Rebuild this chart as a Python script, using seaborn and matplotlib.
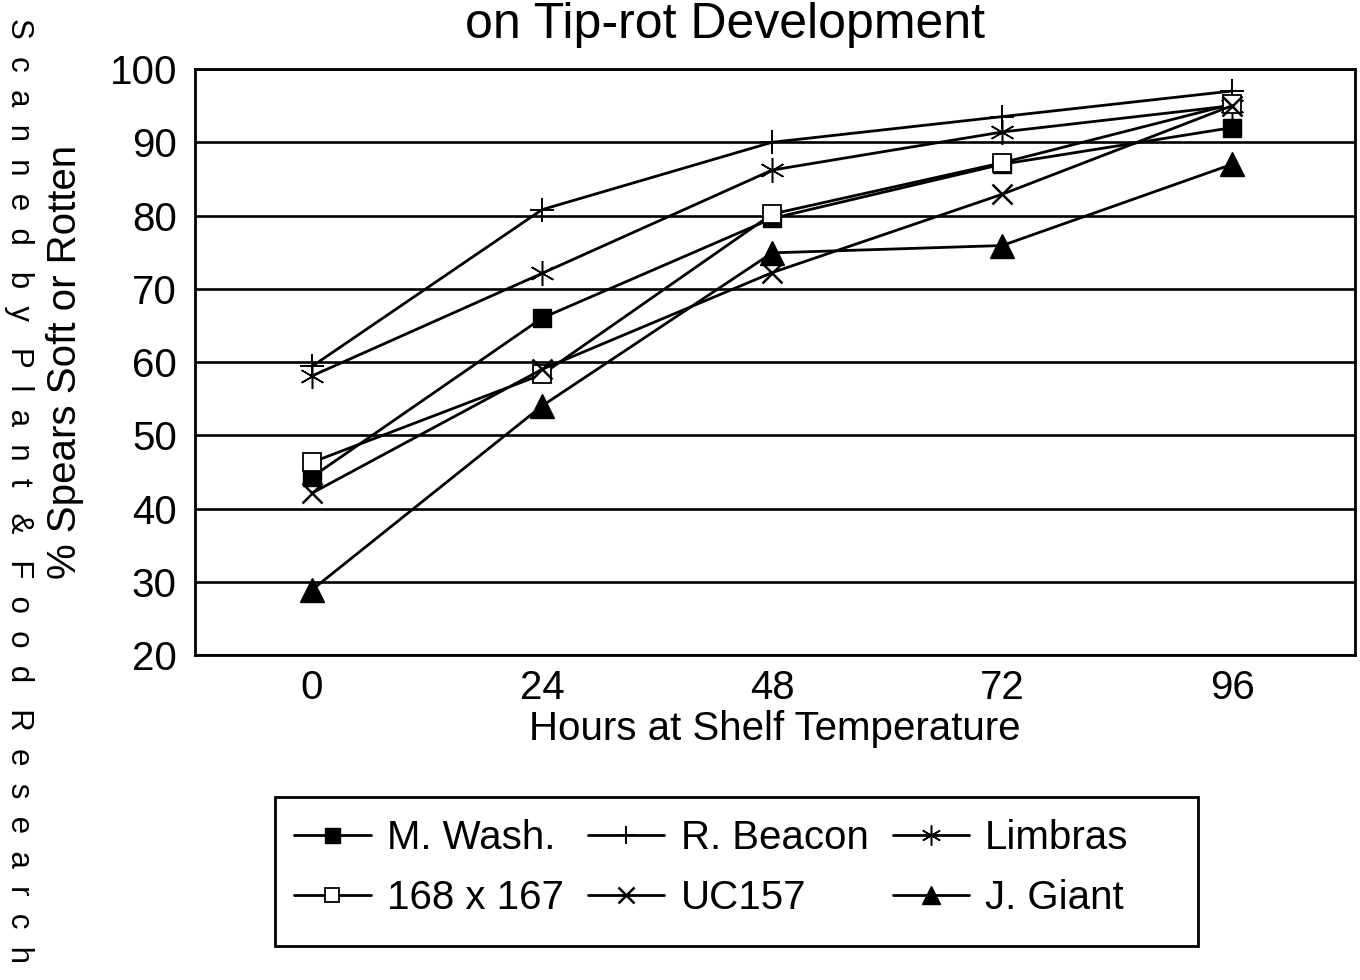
import matplotlib
matplotlib.use("Agg")
import matplotlib.pyplot as plt
from matplotlib.patches import Rectangle
import seaborn as sns
import pandas as pd

# ---- data ----
hours = [0, 24, 48, 72, 96]
m_wash = [44.3, 66.0, 79.6, 87.0, 92.0]
r_beacon = [59.4, 80.8, 90.0, 93.5, 97.0]
limbras = [58.1, 72.1, 86.2, 91.4, 95.0]
cross_168_167 = [46.3, 58.3, 80.2, 87.2, 95.2]
uc157 = [42.1, 59.0, 72.2, 82.9, 95.0]
j_giant = [28.9, 54.0, 74.9, 75.9, 87.0]

series_names = ["M. Wash.", "R. Beacon", "Limbras", "168 x 167", "UC157", "J. Giant"]
series_values = [m_wash, r_beacon, limbras, cross_168_167, uc157, j_giant]
y_ticks = [20, 30, 40, 50, 60, 70, 80, 90, 100]
x_ticks = [0, 24, 48, 72, 96]

title_text = "on Tip-rot Development"
x_label = "Hours at Shelf Temperature"
y_label = "% Spears Soft or Rotten"
side_text = "Scanned by Plant & Food Research"

# ---- styling ----
sns.set_theme(style="white")
plt.rcParams["font.family"] = ["Liberation Sans", "DejaVu Sans"]
plt.rcParams["text.color"] = "black"
plt.rcParams["axes.labelcolor"] = "black"

marker_styles = {
    "M. Wash.": dict(marker="s", ms=13.5, mfc="black", mec="black", mew=1.0),
    "R. Beacon": dict(marker="+", ms=17, mfc="black", mec="black", mew=1.4),
    "Limbras": dict(marker=(6, 2, 0), ms=18, mfc="black", mec="black", mew=1.1),
    "168 x 167": dict(marker="s", ms=13, mfc="white", mec="black", mew=1.3),
    "UC157": dict(marker="x", ms=14, mfc="black", mec="black", mew=1.8),
    "J. Giant": dict(marker="^", ms=17, mfc="black", mec="black", mew=1.0),
}

df = pd.DataFrame(
    [(name, h, v) for name, vals in zip(series_names, series_values) for h, v in zip(hours, vals)],
    columns=["variety", "hours", "value"],
)

W, H = 1360, 980
fig = plt.figure(figsize=(W / 100, H / 100), dpi=100)
ax = fig.add_axes([195 / W, 1 - 655 / H, 1160 / W, (655 - 69) / H])

for name in series_names:
    sub = df[df["variety"] == name]
    sns.lineplot(data=sub, x="hours", y="value", ax=ax, color="black", linewidth=2.0,
                 label=name, legend=False, **marker_styles[name])

ax.set_xlim(-12.2, 108.8)
ax.set_ylim(20, 100)
ax.set_yticks(y_ticks)
ax.set_xticks(x_ticks)
ax.yaxis.grid(True, color="black", linewidth=1.9)
ax.xaxis.grid(False)
ax.set_axisbelow(True)
for sp in ax.spines.values():
    sp.set_color("black")
    sp.set_linewidth(2.0)
ax.tick_params(axis="both", direction="out", colors="black", labelsize=29, width=1.6)
ax.tick_params(axis="y", length=11, pad=2)
ax.tick_params(axis="x", length=9, pad=1)
ax.set_xlabel(x_label, fontsize=29, color="black", labelpad=2)
ax.set_ylabel(y_label, fontsize=29, color="black", labelpad=18)

# legend: rows M.Wash/R.Beacon/Limbras and 168x167/UC157/J.Giant
handles, labels = ax.get_legend_handles_labels()
hmap = dict(zip(labels, handles))
order = ["M. Wash.", "168 x 167", "R. Beacon", "UC157", "Limbras", "J. Giant"]
leg = fig.legend([hmap[o] for o in order], order, ncol=3, loc="upper left",
                 bbox_to_anchor=(262 / W, 1 - 787 / H), bbox_transform=fig.transFigure,
                 fontsize=29, frameon=False,
                 handlelength=1.9, handletextpad=0.4, columnspacing=0.6,
                 labelspacing=0.55, borderpad=0.3, markerscale=0.8)
for t in leg.get_texts():
    t.set_color("black")
fig.patches.append(Rectangle((275 / W, 1 - 946 / H), 923 / W, 149 / H,
                             transform=fig.transFigure, fill=False,
                             edgecolor="black", linewidth=2.0))

fig.text(725 / W, 1 - 38 / H, title_text, ha="center", va="baseline", fontsize=36, color="black")

spaced = "   ".join("  ".join(list(w)) for w in side_text.split(" "))
fig.text(19 / W, 0.5, spaced, rotation=270, ha="center", va="center", fontsize=22.5, color="black")

fig.savefig("out.png", dpi=100)
